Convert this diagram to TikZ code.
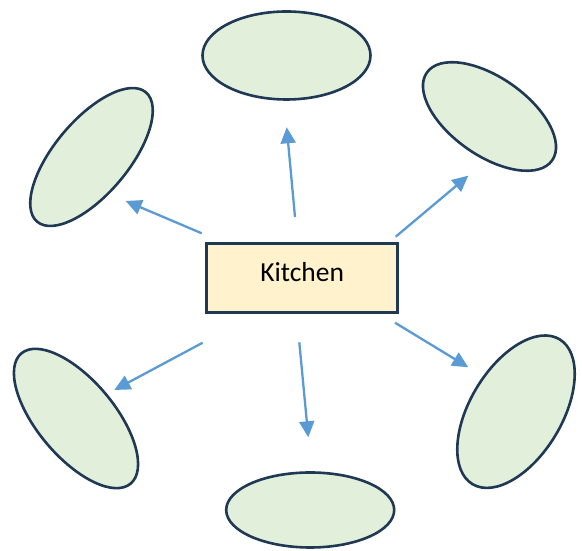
\documentclass[tikz,border=0pt]{standalone}
\definecolor{green1}{RGB}{226, 239, 218}
\definecolor{navy1}{RGB}{31, 56, 84}
\definecolor{yellow1}{RGB}{255, 242, 204}
\definecolor{blue1}{RGB}{91, 155, 213}
\usepackage{fontspec}
\newfontfamily\calibri{Carlito}
\usepackage{tikz}
\usetikzlibrary{shapes.geometric, arrows.meta, positioning}

\begin{document}
\begin{tikzpicture}[x=1pt, y=1pt,
    blob/.style={ellipse, draw=navy1, fill=green1, line width=2.6pt, inner sep=0pt},
    roombox/.style={rectangle, draw=navy1, fill=yellow1, line width=2.6pt,
      minimum width=191pt, minimum height=69pt, text depth=12pt,
      font=\calibri\fontsize{27.5}{32}\selectfont},
    link/.style={draw=blue1, line width=2.3pt, -{Triangle[length=16pt, width=15pt]}}]
  \useasboundingbox (0,0) rectangle (582,551);

  % centre room
  \node[roombox] (kitchen) at (302.2,273) {Kitchen};

  % surrounding ellipses
  \node[blob, minimum width=168pt, minimum height=88pt] (top) at (286.5,495.5) {};
  \node[blob, minimum width=169pt, minimum height=74pt, rotate=50] (topleft) at (91.5,394) {};
  \node[blob, minimum width=153pt, minimum height=78pt, rotate=-35] (topright) at (489.5,434.5) {};
  \node[blob, minimum width=170pt, minimum height=77pt, rotate=-50] (botleft) at (76,132.5) {};
  \node[blob, minimum width=168pt, minimum height=75pt] (bottom) at (310.2,41) {};
  \node[blob, minimum width=169pt, minimum height=92pt, rotate=59] (botright) at (516,139.3) {};

  % arrow ends
  \coordinate (a1) at (295,334);     \coordinate (b1) at (286.7,423.7);
  \coordinate (a2) at (201.7,317.7); \coordinate (b2) at (125.7,350);
  \coordinate (a3) at (395.7,314.3); \coordinate (b3) at (468.3,375.3);
  \coordinate (a4) at (202.7,208.3); \coordinate (b4) at (114.3,161);
  \coordinate (a5) at (299.3,208.7); \coordinate (b5) at (308.3,113.7);
  \coordinate (a6) at (395,228.3);   \coordinate (b6) at (468.3,183.7);

  \foreach \i in {1,...,6}
    \draw[link] (a\i) -- (b\i);
\end{tikzpicture}
\end{document}
